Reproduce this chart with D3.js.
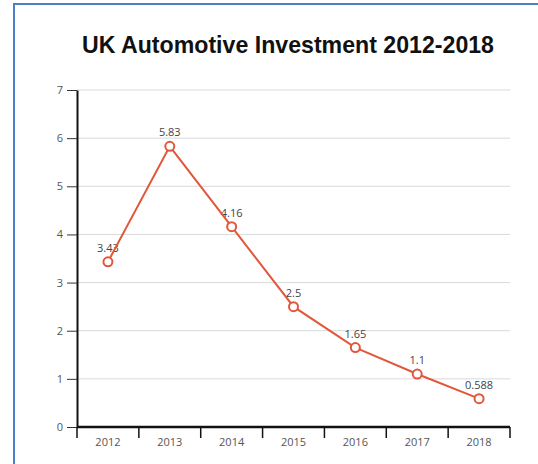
<!DOCTYPE html>
<html><head><meta charset="utf-8">
<script src="https://cdn.jsdelivr.net/npm/d3@7"></script>
<style>body{margin:0;background:#fff;}svg{display:block;}</style>
</head><body>
<script>
const years = ["2012","2013","2014","2015","2016","2017","2018"];
const values = [3.43, 5.83, 4.16, 2.5, 1.65, 1.1, 0.588];
const labels = ["3.43","5.83","4.16","2.5","1.65","1.1","0.588"];
const yTicks = [0,1,2,3,4,5,6,7];
const title = "UK Automotive Investment 2012-2018";

const W = 538, H = 464;
const svg = d3.select("body").append("svg").attr("width", W).attr("height", H);

// frame
svg.append("rect").attr("x", 14).attr("y", 4).attr("width", 540).attr("height", 480)
  .attr("fill", "none").attr("stroke", "#4a80c8").attr("stroke-width", 2);

svg.append("text").attr("x", 82).attr("y", 53)
  .attr("font-family", "Liberation Sans, Arial, sans-serif").attr("font-weight", "bold")
  .attr("font-size", 24).attr("fill", "#111")
  .attr("textLength", 412).attr("lengthAdjust", "spacingAndGlyphs").text(title);

const x = d3.scaleBand().domain(years).range([77, 510]).padding(0);
const y = d3.scaleLinear().domain([0, 7]).range([427, 90]);

// grid
svg.append("g").selectAll("line").data(yTicks.filter(d => d > 0)).join("line")
  .attr("x1", 77).attr("x2", 510).attr("y1", d => y(d)).attr("y2", d => y(d))
  .attr("stroke", "#d9d9d9").attr("stroke-width", 1);

const font = "Open Sans, Noto Sans, sans-serif";
const yAxis = svg.append("g").attr("transform", "translate(77,0)")
  .call(d3.axisLeft(y).tickValues(yTicks).tickFormat(d3.format("d")).tickSize(10).tickPadding(4).tickSizeOuter(0));
yAxis.select(".domain").attr("stroke", "#111").attr("stroke-width", 2);
yAxis.selectAll(".tick line").attr("stroke", "#333");
yAxis.selectAll("text").attr("font-family", font).attr("font-size", 11).attr("fill", "#555");

const xAxis = svg.append("g").attr("transform", "translate(0,427)")
  .call(d3.axisBottom(x).tickSize(0).tickPadding(11));
xAxis.select(".domain").remove();
xAxis.selectAll("text").attr("font-family", font).attr("font-size", 11).attr("fill", "#555");
// band boundary ticks
const bounds = years.map(d => x(d)).concat([x(years[years.length-1]) + x.bandwidth()]);
svg.append("g").selectAll("line").data(bounds).join("line")
  .attr("x1", d => d).attr("x2", d => d).attr("y1", 427).attr("y2", 438)
  .attr("stroke", "#111").attr("stroke-width", 1.5);
svg.append("line").attr("x1", 77).attr("x2", 510).attr("y1", 427).attr("y2", 427)
  .attr("stroke", "#111").attr("stroke-width", 2.5);

const cx = d => x(d) + x.bandwidth() / 2;
const pts = years.map((d, i) => ({ year: d, v: values[i], l: labels[i] }));

// labels (behind line)
svg.append("g").selectAll("text").data(pts).join("text")
  .attr("x", d => cx(d.year)).attr("y", d => y(d.v) - 10)
  .attr("text-anchor", "middle").attr("font-family", font).attr("font-size", 11)
  .attr("fill", "#444").text(d => d.l);

const color = "#e2573b";
svg.append("path").datum(pts)
  .attr("d", d3.line().x(d => cx(d.year)).y(d => y(d.v)))
  .attr("fill", "none").attr("stroke", color).attr("stroke-width", 2);
svg.append("g").selectAll("circle").data(pts).join("circle")
  .attr("cx", d => cx(d.year)).attr("cy", d => y(d.v)).attr("r", 4.5)
  .attr("fill", "#fff").attr("stroke", color).attr("stroke-width", 2);
</script>
</body></html>
